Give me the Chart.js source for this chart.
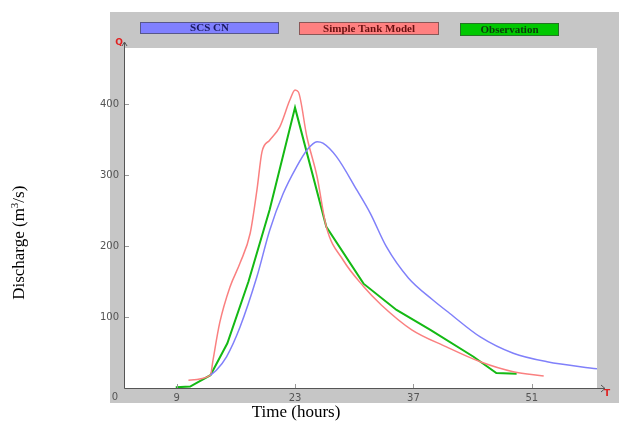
<!DOCTYPE html>
<html>
<head>
<meta charset="utf-8">
<script src="https://cdn.jsdelivr.net/npm/chart.js@4.4.1/dist/chart.umd.min.js"></script>
<style>
  html, body { margin: 0; padding: 0; background: #fff; }
  #wrap { width: 619px; height: 427px; }
</style>
</head>
<body>
<div id="wrap"><canvas id="chart"></canvas></div>
<script>
// =====================
// Data (time in hours, discharge in m3/s)
// =====================
const scsT = [13, 13.7, 14.9, 16.5, 18.5, 20, 21.6, 23.2, 24.4, 25.6, 26.3, 27.9, 30.3, 31.9, 33.8, 36.4, 39.3, 41.3, 44.9, 48.8, 52.8, 58.7];
const scsQ = [18, 25, 44, 86, 157, 222, 274, 312, 335, 347, 345, 326, 279, 246, 199, 155, 124, 105, 72, 49, 37, 27];

const tankT = [10.4, 13, 13.3, 14.1, 15.3, 16.5, 17.7, 18.5, 19.1, 20, 21.2, 22.4, 23, 23.4, 24.4, 25.6, 26.7, 28.7, 31.1, 33.2, 36.8, 40.9, 44.9, 48.8, 52.4];
const tankQ = [11, 18, 39, 92, 142, 176, 218, 279, 333, 349, 368, 406, 420, 417, 354, 298, 227, 180, 143, 117, 82, 58, 37, 23, 17];

const obsT = [8.9, 10.6, 13, 15, 17.5, 20, 23, 26.7, 31.1, 35, 39, 44.1, 46.8, 49.2];
const obsQ = [1, 2, 18, 63, 150, 251, 395, 227, 147, 110, 82, 44, 21, 20];

const xTicks = [9, 23, 37, 51];
const seriesNames = ['SCS CN', 'Simple Tank Model', 'Observation'];
const lineColors = ['rgb(128,128,250)', 'rgb(250,128,128)', 'rgb(20,185,20)'];
const boxColors = ['rgb(128,128,255)', 'rgb(255,128,128)', 'rgb(0,200,0)'];
const boxText = ['#1a1a5e', '#6a1010', '#0a3a0a'];

const toPoints = (ts, qs) => ts.map((t, i) => ({ x: t, y: qs[i] }));

// =====================
// Panel, legend, axis titles
// =====================
const framePlugin = {
  id: 'frame',
  beforeDraw(chart) {
    const { ctx, chartArea: a } = chart;
    ctx.save();
    ctx.fillStyle = '#c6c6c6';
    ctx.fillRect(110, 12, 509, 391);
    ctx.fillStyle = '#fff';
    ctx.fillRect(a.left, a.top, a.right - a.left, a.bottom - a.top);
    ctx.restore();
  },
  afterDraw(chart) {
    const { ctx, chartArea: a } = chart;
    ctx.save();
    // axis lines with arrows
    ctx.strokeStyle = '#555';
    ctx.lineWidth = 1;
    ctx.beginPath();
    ctx.moveTo(a.left - 0.5, a.bottom + 0.5);
    ctx.lineTo(a.left - 0.5, a.top - 6);
    ctx.moveTo(a.left - 0.5, a.bottom + 0.5);
    ctx.lineTo(a.right + 8, a.bottom + 0.5);
    ctx.moveTo(a.right + 4, a.bottom - 3);
    ctx.lineTo(a.right + 8, a.bottom + 0.5);
    ctx.lineTo(a.right + 4, a.bottom + 4);
    ctx.moveTo(a.left - 3, a.top - 2);
    ctx.lineTo(a.left - 0.5, a.top - 6);
    ctx.lineTo(a.left + 2, a.top - 2);
    ctx.stroke();
    // small ticks inside plot
    const xs = chart.scales.x, ys = chart.scales.y;
    ctx.strokeStyle = '#999';
    ctx.beginPath();
    xTicks.forEach(v => {
      const px = Math.round(xs.getPixelForValue(v)) + 0.5;
      ctx.moveTo(px, a.bottom);
      ctx.lineTo(px, a.bottom - 4);
    });
    [100, 200, 300, 400].forEach(v => {
      const py = Math.round(ys.getPixelForValue(v)) + 0.5;
      ctx.moveTo(a.left, py);
      ctx.lineTo(a.left + 4, py);
    });
    ctx.stroke();

    // axis letters
    ctx.fillStyle = '#e02020';
    ctx.font = 'bold 9px "DejaVu Sans"';
    ctx.textAlign = 'center';
    ctx.textBaseline = 'middle';
    ctx.fillText('Q', a.left - 6, a.top - 5);
    ctx.fillText('T', a.right + 10, a.bottom + 6);
    ctx.fillStyle = '#555';
    ctx.font = '10px "DejaVu Sans"';
    ctx.fillText('0', 115, 397);

    // legend boxes
    const boxes = [[140, 22, 139, 12], [299, 22, 140, 13], [460, 23, 99, 13]];
    ctx.font = 'bold 11px "Liberation Serif"';
    chart.data.datasets.forEach((ds, i) => {
      const [bx, by, bw, bh] = boxes[i];
      ctx.fillStyle = boxColors[i];
      ctx.fillRect(bx, by, bw, bh);
      ctx.strokeStyle = 'rgba(60,60,60,0.6)';
      ctx.strokeRect(bx + 0.5, by + 0.5, bw - 1, bh - 1);
      ctx.fillStyle = boxText[i];
      ctx.fillText(ds.label, bx + bw / 2, by + bh / 2 + 0.5);
    });

    // axis titles
    ctx.fillStyle = '#000';
    ctx.font = '17px "Liberation Serif"';
    ctx.fillText('Time (hours)', 296, 413);
    ctx.translate(20, 248);
    ctx.rotate(-Math.PI / 2);
    ctx.fillText('Discharge (m', -6, 0);
    const w1 = ctx.measureText('Discharge (m').width;
    ctx.textAlign = 'left';
    ctx.font = '11px "Liberation Serif"';
    ctx.fillText('3', -6 + w1 / 2, -5);
    const w2 = ctx.measureText('3').width;
    ctx.font = '17px "Liberation Serif"';
    ctx.fillText('/s)', -6 + w1 / 2 + w2, 0);
    ctx.restore();
  }
};

const ds = (i, ts, qs, width) => ({
  label: seriesNames[i],
  data: toPoints(ts, qs),
  borderColor: lineColors[i],
  backgroundColor: lineColors[i],
  borderWidth: width,
  pointRadius: 0,
  cubicInterpolationMode: i === 2 ? 'default' : 'monotone',
  tension: i === 2 ? 0 : 0.4,
  fill: false
});

new Chart(document.getElementById('chart'), {
  type: 'line',
  data: {
    datasets: [
      ds(0, scsT, scsQ, 1.5),
      ds(1, tankT, tankQ, 1.5),
      ds(2, obsT, obsQ, 2)
    ]
  },
  options: {
    responsive: true,
    maintainAspectRatio: false,
    animation: false,
    layout: { padding: { left: 10, right: 22, top: 48, bottom: 0 } },
    plugins: { legend: { display: false }, tooltip: { enabled: false } },
    scales: {
      x: {
        type: 'linear',
        min: 2.9,
        max: 58.7,
        afterBuildTicks: s => { s.ticks = xTicks.map(v => ({ value: v })); },
        afterFit: s => { s.height = 39; },
        border: { display: false },
        grid: { display: false, drawTicks: false },
        ticks: { padding: 4, color: '#555', font: { family: 'DejaVu Sans', size: 10 } }
      },
      y: {
        min: 0,
        max: 479,
        afterBuildTicks: s => { s.ticks = [100, 200, 300, 400].map(v => ({ value: v })); },
        afterFit: s => { s.width = 115; },
        border: { display: false },
        grid: { display: false, drawTicks: false },
        ticks: { padding: 6, color: '#555', font: { family: 'DejaVu Sans', size: 10 } }
      }
    }
  },
  plugins: [framePlugin]
});
</script>
</body>
</html>
